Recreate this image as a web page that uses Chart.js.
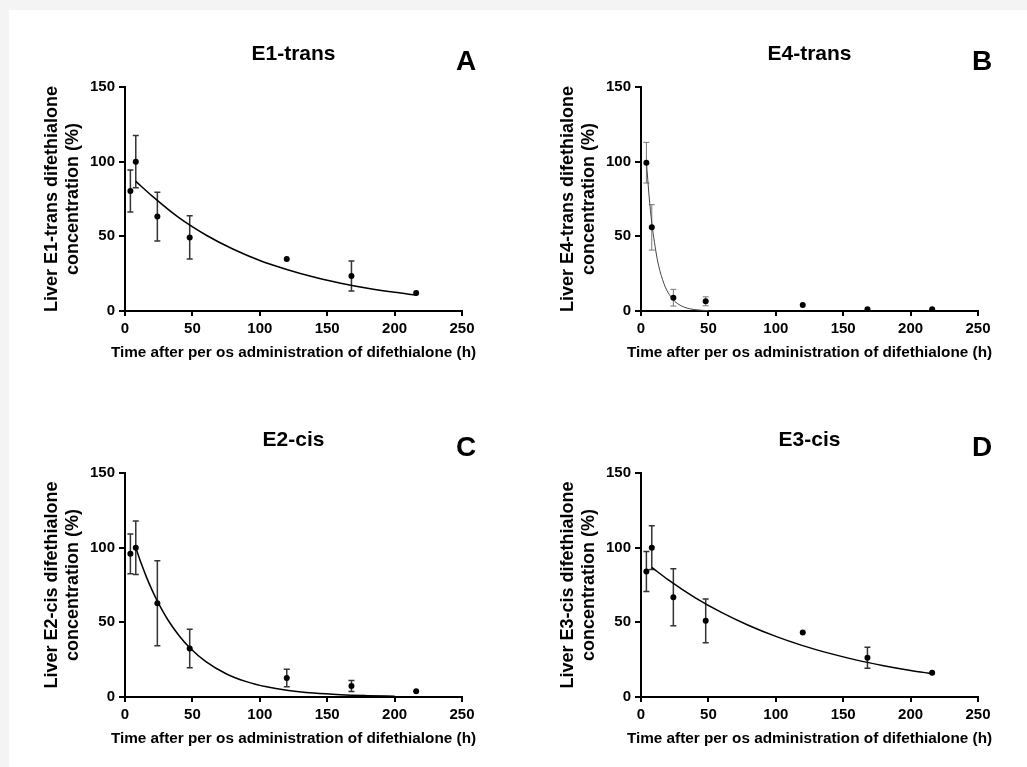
<!DOCTYPE html>
<html><head><meta charset="utf-8">
<script src="https://cdn.jsdelivr.net/npm/chart.js@4.4.1/dist/chart.umd.min.js"></script>
<style>
html,body{margin:0;padding:0;width:1027px;height:767px;overflow:hidden;background:#f4f4f4;}
#sheet{position:absolute;left:9px;top:10px;width:1018px;height:757px;background:#fff;}
.pane{position:absolute;width:500px;height:370px;}
.pane canvas{display:block;width:500px;height:370px;}
</style></head><body>
<div id="sheet"></div>
<div class="pane" style="left:10px;top:10px"><canvas id="cA" width="500" height="370"></canvas></div>
<div class="pane" style="left:526px;top:10px"><canvas id="cB" width="500" height="370"></canvas></div>
<div class="pane" style="left:10px;top:396px"><canvas id="cC" width="500" height="370"></canvas></div>
<div class="pane" style="left:526px;top:396px"><canvas id="cD" width="500" height="370"></canvas></div>
<script>
// ---- data ----
const times = [4, 8, 24, 48, 120, 168, 216];
const xTicks = [0, 50, 100, 150, 200, 250];
const yTicks = [0, 50, 100, 150];
const xTitle = 'Time after per os administration of difethialone (h)';

const e1TransMean = [80.4, 100, 63.2, 49.3, 34.8, 23.4, 12.1];
const e1TransSd   = [14.1, 17.5, 16.3, 14.5, null, 10.0, null];
const e1TransFitT = [8, 20, 40, 60, 80, 100, 120, 140, 160, 180, 200, 216];
const e1TransFitY = [86.8, 77.1, 62.5, 50.9, 41.5, 33.8, 27.8, 22.7, 18.6, 15.2, 12.5, 10.7];

const e4TransMean = [99.3, 56.0, 8.9, 6.5, 4.0, 1.1, 1.1];
const e4TransSd   = [13.6, 15.2, 5.6, 3.0, null, null, null];
const e4TransFitT = [4, 6, 8, 10, 12, 14, 16, 18, 20, 24, 28, 32, 36, 40, 45, 50];
const e4TransFitY = [100, 77, 59, 46, 35, 27, 21, 16, 12.5, 7.4, 4.4, 2.6, 1.5, 0.9, 0.5, 0.2];

const e2CisMean = [95.9, 100, 62.8, 32.5, 12.7, 7.3, 3.8];
const e2CisSd   = [13.3, 17.9, 28.4, 12.9, 5.8, 3.7, null];
const e2CisFitT = [8, 12, 16, 20, 24, 32, 40, 48, 60, 75, 90, 105, 120, 140, 160, 180, 200];
const e2CisFitY = [100, 89.5, 80.1, 71.7, 64.2, 51.4, 41.2, 33.0, 23.7, 15.6, 10.3, 6.8, 4.5, 2.6, 1.5, 0.9, 0.5];

const e3CisMean = [84.1, 100, 66.8, 51.0, 43.2, 26.3, 16.2];
const e3CisSd   = [13.4, 14.6, 19.1, 14.7, null, 7.0, null];
const e3CisFitT = [8, 20, 40, 60, 80, 100, 120, 140, 160, 180, 200, 216];
const e3CisFitY = [86.8, 78.6, 66.6, 56.5, 47.9, 40.6, 34.4, 29.2, 24.7, 21.0, 17.8, 15.6];

// ---- rendering ----
const FAM = '"Liberation Sans", Arial, Helvetica, sans-serif';
Chart.defaults.font.family = FAM;
Chart.defaults.color = '#000';

function makePanel(id, cfg) {
  const points = times.map((t, i) => ({x: t, y: cfg.mean[i]}));
  const curve = cfg.fitT.map((t, i) => ({x: t, y: cfg.fitY[i]}));
  const errPlugin = {
    id: 'errbars',
    beforeDatasetsDraw(chart) {
      const ctx = chart.ctx, xs = chart.scales.x, ys = chart.scales.y;
      ctx.save();
      ctx.strokeStyle = cfg.errColor;
      ctx.lineWidth = cfg.errWidth;
      times.forEach((t, i) => {
        const sd = cfg.sd[i];
        if (sd == null) return;
        const px = xs.getPixelForValue(t);
        const top = ys.getPixelForValue(cfg.mean[i] + sd);
        const bot = ys.getPixelForValue(cfg.mean[i] - sd);
        ctx.beginPath();
        ctx.moveTo(px, top); ctx.lineTo(px, bot);
        ctx.moveTo(px - 3, top); ctx.lineTo(px + 3, top);
        ctx.moveTo(px - 3, bot); ctx.lineTo(px + 3, bot);
        ctx.stroke();
      });
      ctx.restore();
    }
  };
  const decor = {
    id: 'decor',
    afterDraw(chart) {
      const a = chart.chartArea, ctx = chart.ctx;
      ctx.save();
      ctx.fillStyle = '#000';
      ctx.textAlign = 'center';
      ctx.textBaseline = 'middle';
      ctx.font = 'bold 21px ' + FAM;
      ctx.fillText(cfg.title, (a.left + a.right) / 2, a.top - 33);
      ctx.font = 'bold 28px ' + FAM;
      ctx.fillText(cfg.letter, a.right + 4, a.top - 25);
      ctx.font = 'bold 15.3px ' + FAM;
      ctx.fillText(xTitle, (a.left + a.right) / 2, a.bottom + 42);
      ctx.restore();
    }
  };
  new Chart(document.getElementById(id), {
    type: 'scatter',
    data: {
      datasets: [
        {data: points, showLine: false, pointRadius: 3, pointHoverRadius: 3,
         backgroundColor: '#000', borderColor: '#000', borderWidth: 0},
        {data: curve, showLine: true, pointRadius: 0, borderColor: cfg.lineColor,
         borderWidth: cfg.lineWidth, cubicInterpolationMode: 'monotone', fill: false}
      ]
    },
    options: {
      responsive: false, animation: false, devicePixelRatio: 1,
      layout: {padding: {left: 0, top: 77, right: 48, bottom: 18}},
      plugins: {legend: {display: false}, tooltip: {enabled: false}},
      scales: {
        x: {
          type: 'linear', min: 0, max: 250,
          afterBuildTicks: s => { s.ticks = xTicks.map(v => ({value: v})); },
          afterFit: s => { s.height = 51; },
          grid: {display: true, drawOnChartArea: false, drawTicks: true, tickLength: 5, color: '#000', lineWidth: 2},
          border: {display: true, color: '#000', width: 2},
          ticks: {padding: 4, font: {size: 15, weight: 'bold'}, color: '#000', maxRotation: 0},
          title: {display: false}
        },
        y: {
          type: 'linear', min: 0, max: 150,
          afterBuildTicks: s => { s.ticks = yTicks.map(v => ({value: v})); },
          afterFit: s => { s.width = 115; },
          grid: {display: true, drawOnChartArea: false, drawTicks: true, tickLength: 6, color: '#000', lineWidth: 2},
          border: {display: true, color: '#000', width: 2},
          ticks: {padding: 4, font: {size: 15, weight: 'bold'}, color: '#000'},
          title: {display: true, text: cfg.yTitle, font: {size: 18, weight: 'bold', lineHeight: 1.18}, color: '#000', padding: {top: 31, bottom: 0}}
        }
      }
    },
    plugins: [errPlugin, decor]
  });
}

makePanel('cA', {title: 'E1-trans', letter: 'A', mean: e1TransMean, sd: e1TransSd, fitT: e1TransFitT, fitY: e1TransFitY,
  yTitle: ['Liver E1-trans difethialone', 'concentration (%)'], errColor: '#333', errWidth: 1.5, lineColor: '#000', lineWidth: 1.5});
makePanel('cB', {title: 'E4-trans', letter: 'B', mean: e4TransMean, sd: e4TransSd, fitT: e4TransFitT, fitY: e4TransFitY,
  yTitle: ['Liver E4-trans difethialone', 'concentration (%)'], errColor: '#777', errWidth: 1, lineColor: '#444', lineWidth: 1});
makePanel('cC', {title: 'E2-cis', letter: 'C', mean: e2CisMean, sd: e2CisSd, fitT: e2CisFitT, fitY: e2CisFitY,
  yTitle: ['Liver E2-cis difethialone', 'concentration (%)'], errColor: '#333', errWidth: 1.5, lineColor: '#000', lineWidth: 1.5});
makePanel('cD', {title: 'E3-cis', letter: 'D', mean: e3CisMean, sd: e3CisSd, fitT: e3CisFitT, fitY: e3CisFitY,
  yTitle: ['Liver E3-cis difethialone', 'concentration (%)'], errColor: '#333', errWidth: 1.5, lineColor: '#000', lineWidth: 1.5});
</script>
</body></html>
